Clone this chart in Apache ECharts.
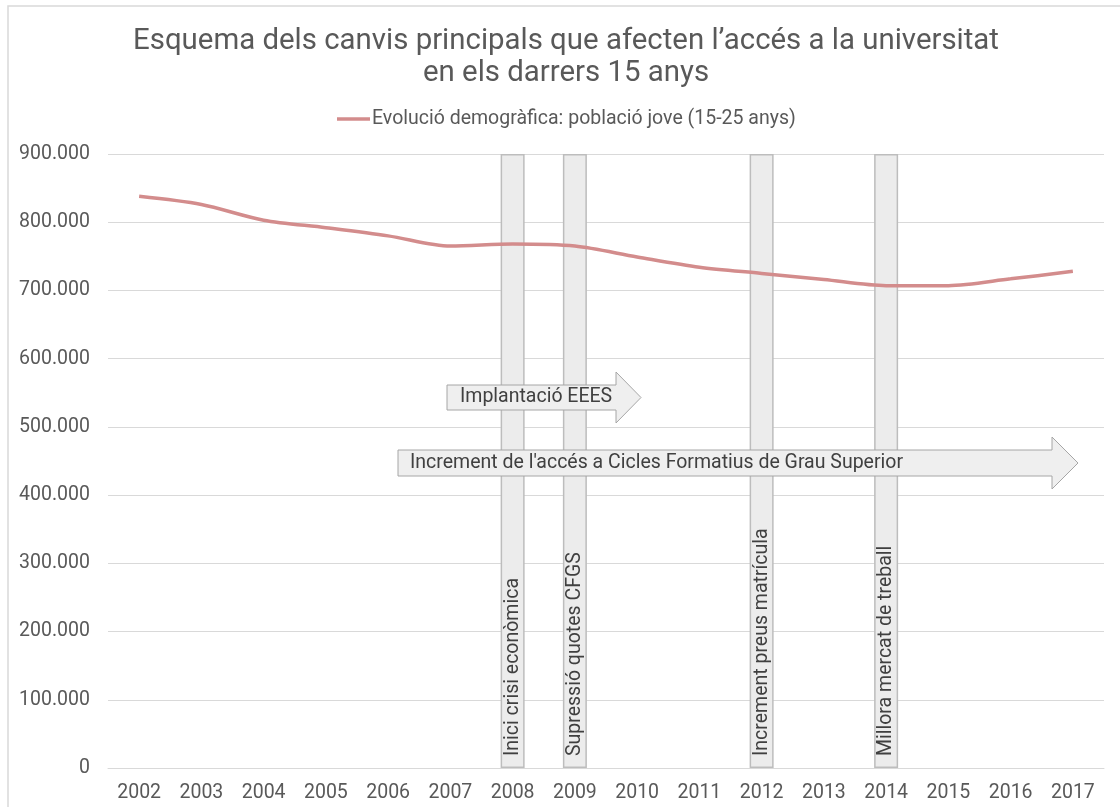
<!DOCTYPE html>
<html>
<head>
<meta charset="utf-8">
<script src="https://cdn.jsdelivr.net/npm/echarts@6/dist/echarts.min.js"></script>
<style>html,body{margin:0;padding:0;background:#fff;}#c{width:1120px;height:807px;}</style>
</head>
<body>
<div id="c"></div>
<script>
const categories = ['2002','2003','2004','2005','2006','2007','2008','2009','2010','2011','2012','2013','2014','2015','2016','2017'];
const populationValues = [838000, 826000, 803000, 792000, 780000, 765000, 768000, 765000, 749000, 734000, 725000, 716000, 707000, 707000, 717000, 728000];
const seriesName = 'Evolució demogràfica: població jove (15-25 anys)';
const eventYears = ['2008', '2009', '2012', '2014'];
const eventLabels = ['Inici crisi econòmica', 'Supressió quotes CFGS', 'Increment preus matrícula', 'Millora mercat de treball'];
const eventBarValue = 900000;
const arrowLabels = ['Implantació EEES', "Increment de l'accés a Cicles Formatius de Grau Superior"];
const yTicks = { min: 0, max: 900000, interval: 100000 };

const FS = 19.5;
const fmt = v => String(v).replace(/\B(?=(\d{3})+(?!\d))/g, '.');
const barData = categories.map(c => {
  const i = eventYears.indexOf(c);
  return i >= 0 ? { value: eventBarValue, labelText: eventLabels[i] } : null;
});

function arrow(x0, yTop, yBot, headBase, headTop, headBot, tip, text, textX, fs) {
  const yMid = (yTop + yBot) / 2;
  return [
    { type: 'polygon', z: 100, silent: true, shape: { points: [[x0, yTop], [headBase, yTop], [headBase, headTop], [tip, yMid], [headBase, headBot], [headBase, yBot], [x0, yBot]] },
      style: { fill: '#efefef', stroke: '#a6a6a6', lineWidth: 1 } },
    { type: 'text', z: 101, silent: true, x: textX, y: yMid, style: { text: text, fill: '#404040', font: fs + 'px Roboto', verticalAlign: 'middle', align: 'left' } }
  ];
}

const chart = echarts.init(document.getElementById('c'));
chart.setOption({
  animation: false,
  textStyle: { fontFamily: 'Roboto' },
  title: {
    text: 'Esquema dels canvis principals que afecten l’accés a la universitat\nen els darrers 15 anys',
    left: 566, top: 26, padding: 0, textAlign: 'center',
    textStyle: { fontSize: 29.4, fontWeight: 'normal', color: '#595959', lineHeight: 32, fontFamily: 'Roboto' }
  },
  legend: {
    data: [seriesName], top: 109, left: 337, padding: 0,
    icon: 'rect', itemWidth: 33, itemHeight: 3.5,
    textStyle: { fontSize: FS, color: '#595959', fontFamily: 'Roboto', padding: [0, 0, 0, -3] }
  },
  grid: { left: 108, right: 16, top: 154, bottom: 39, containLabel: false },
  xAxis: {
    type: 'category', data: categories, boundaryGap: true,
    axisTick: { show: false },
    axisLine: { show: true, lineStyle: { color: '#d9d9d9', width: 1 } },
    axisLabel: { fontSize: FS, color: '#595959', margin: 15, fontFamily: 'Roboto' }
  },
  yAxis: {
    type: 'value', min: yTicks.min, max: yTicks.max, interval: yTicks.interval,
    axisLine: { show: false }, axisTick: { show: false },
    splitLine: { lineStyle: { color: '#d9d9d9', width: 1 } },
    axisLabel: { fontSize: FS, color: '#595959', margin: 18, formatter: v => fmt(v), fontFamily: 'Roboto' }
  },
  series: [
    {
      type: 'bar', name: 'events', data: barData, barWidth: 24, barGap: '-100%', z: 1,
      itemStyle: { color: '#ececec', borderColor: '#bdbdbd', borderWidth: 1.5 },
      label: {
        show: true, position: 'insideBottom', rotate: 90, align: 'left', verticalAlign: 'middle', distance: 12,
        fontSize: FS, color: '#404040', fontFamily: 'Roboto',
        formatter: p => (barData[p.dataIndex] ? barData[p.dataIndex].labelText : '')
      },
      emphasis: { disabled: true }
    },
    {
      type: 'line', name: seriesName, data: populationValues, symbol: 'none', smooth: 0.3, z: 5,
      lineStyle: { color: '#d38c8c', width: 3.5 }, itemStyle: { color: '#d38c8c' }
    }
  ],
  graphic: [
    { type: 'rect', silent: true, z: -10, shape: { x: 8, y: 6, width: 1200, height: 900 }, style: { fill: 'none', stroke: '#d9d9d9', lineWidth: 1.5 } }
  ].concat(
    arrow(447, 385, 410, 616, 372, 423, 641, arrowLabels[0], 460, FS),
    arrow(398, 450, 476, 1052, 437, 489, 1078, arrowLabels[1], 410, FS)
  )
});
</script>
</body>
</html>
